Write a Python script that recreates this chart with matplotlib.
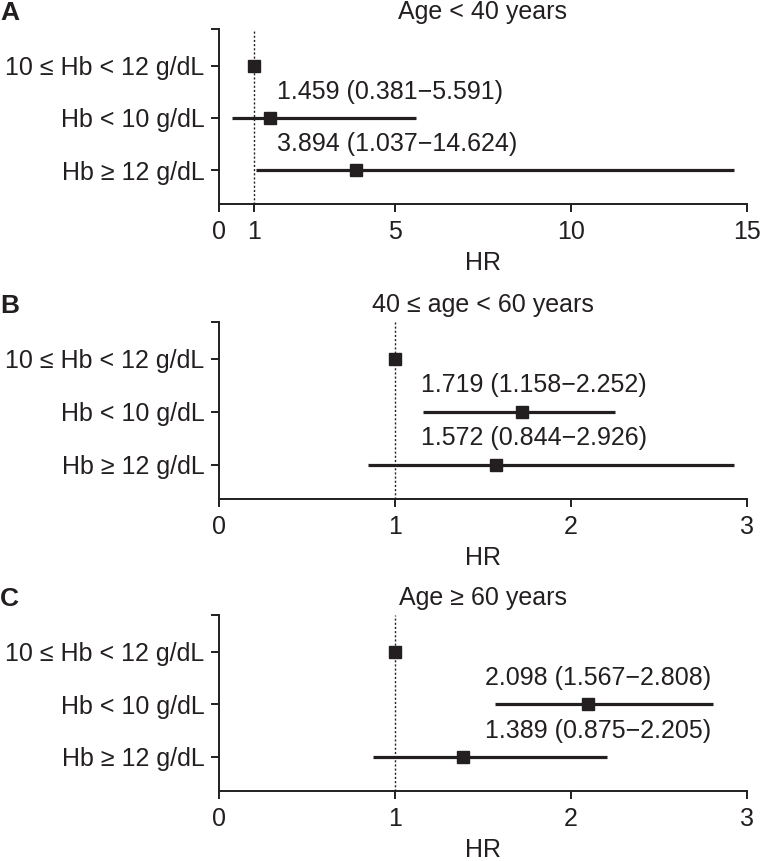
import numpy as np
import matplotlib.pyplot as plt

plt.rcParams['font.family'] = ['Liberation Sans', 'DejaVu Sans']

# Data
groups = ['10 \u2264 Hb < 12 g/dL', 'Hb < 10 g/dL', 'Hb \u2265 12 g/dL']
titles = ['Age < 40 years', '40 \u2264 age < 60 years', 'Age \u2265 60 years']
letters = ['A', 'B', 'C']
hr_a = [1.0, 1.459, 3.894]
lo_a = [1.0, 0.381, 1.037]
hi_a = [1.0, 5.591, 14.624]
hr_b = [1.0, 1.719, 1.572]
lo_b = [1.0, 1.158, 0.844]
hi_b = [1.0, 2.252, 2.926]
hr_c = [1.0, 2.098, 1.389]
lo_c = [1.0, 1.567, 0.875]
hi_c = [1.0, 2.808, 2.205]
xticks_a = [0, 1, 5, 10, 15]
xticks_bc = [0, 1, 2, 3]

panels = [(hr_a, lo_a, hi_a, xticks_a), (hr_b, lo_b, hi_b, xticks_bc), (hr_c, lo_c, hi_c, xticks_bc)]
label_x = [1.64, 1.15, 1.51]  # left edge of the annotation texts (data units)

col = '#231f20'
fs = 18

fig = plt.figure(figsize=(7.61, 8.61), dpi=100)
left, width = 219/761, 528/761
bottoms = [1-204/861, 1-499/861, 1-791/861]
heights = [175/861, 177/861, 176/861]
ypos = np.array([3, 2, 1])
ylim = (0.35, 3.70)

for i, (hr, lo, hi, xt) in enumerate(panels):
    ax = fig.add_axes([left, bottoms[i], width, heights[i]])
    ax.axvline(1, color=col, lw=1.0, ls=(0, (1.5, 1.5)), zorder=1)
    for j in range(len(hr)):
        if j > 0:
            ax.plot([lo[j], hi[j]], [ypos[j], ypos[j]], color=col, lw=2.3, solid_capstyle='butt', zorder=2)
            ax.text(label_x[i], ypos[j]+0.5, '%.3f (%.3f\u2212%.3f)' % (hr[j], lo[j], hi[j]),
                    ha='left', va='center', fontsize=fs, color=col)
        ax.plot(hr[j], ypos[j], 's', ms=8.5, color=col, zorder=3)
    ax.set_xlim(xt[0], xt[-1])
    ax.set_ylim(*ylim)
    ax.set_xticks(xt)
    ax.set_xticklabels([str(t) for t in xt])
    ax.set_yticks(list(ypos) + [ylim[1]])
    ax.set_yticklabels(groups + [''])
    for s in ['top', 'right']:
        ax.spines[s].set_visible(False)
    for s in ['left', 'bottom']:
        ax.spines[s].set_linewidth(1.4)
        ax.spines[s].set_color(col)
    ax.tick_params(axis='both', length=5.5, width=1.4, color=col, labelsize=fs, labelcolor=col)
    ax.tick_params(axis='x', pad=6)
    ax.tick_params(axis='y', pad=5)
    ax.set_xlabel('HR', fontsize=fs, color=col, labelpad=5)
    ax.set_title(titles[i], fontsize=fs, color=col, pad=7)
    fig.text(0.0, bottoms[i]+heights[i]+16/861, letters[i], fontsize=fs+1, fontweight='bold',
             color=col, ha='left', va='center')

fig.savefig('out.png', dpi=100)
